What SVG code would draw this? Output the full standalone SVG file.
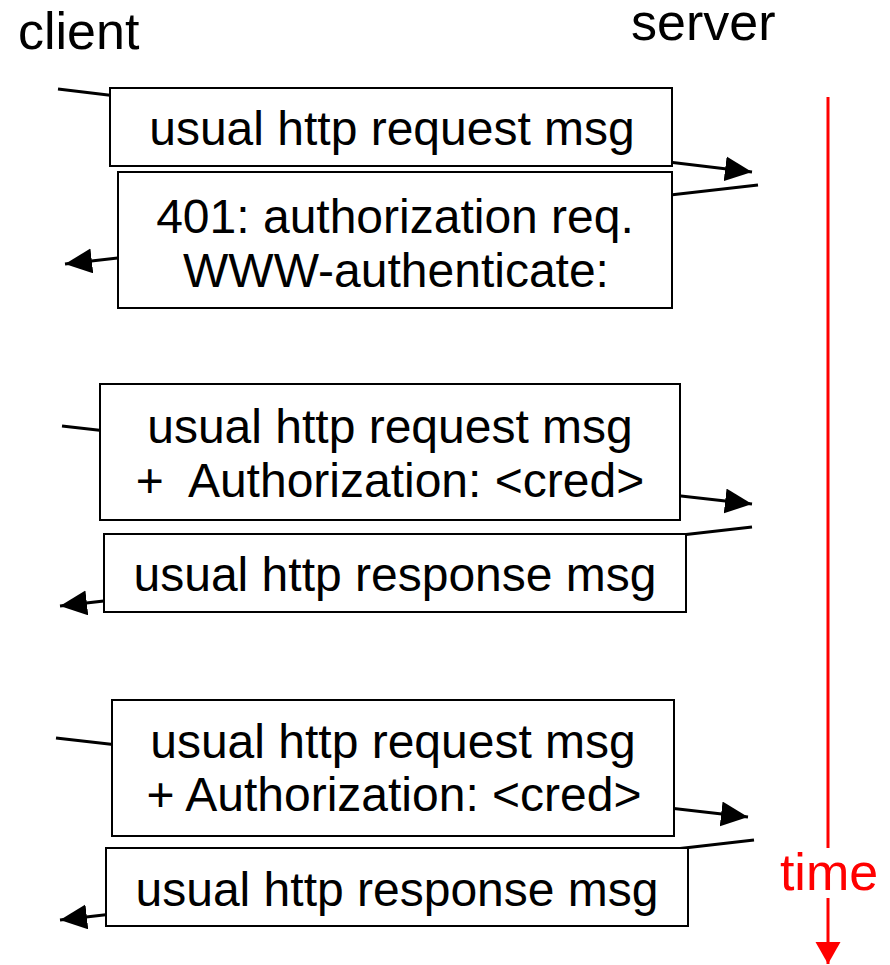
<svg xmlns="http://www.w3.org/2000/svg" width="890" height="965" viewBox="0 0 890 965">
  <style>
    .lbl { font-family: "Liberation Sans", Arial, sans-serif; font-size: 52px; fill: #000; }
    .msg { font-family: "Liberation Sans", Arial, sans-serif; font-size: 48px; fill: #000; text-anchor: middle; white-space: pre; }
    .box { fill: #fff; stroke: #000; stroke-width: 2; }
    .conn { fill: none; stroke: #000; stroke-width: 3; marker-end: url(#ah); }
    .time { fill: none; stroke: #ff0000; stroke-width: 3; }
  </style>
  <defs>
    <marker id="ah" markerUnits="userSpaceOnUse" markerWidth="28" markerHeight="26" refX="27" refY="12.5" orient="auto">
      <path d="M0,0 L27,12.5 L0,25 Z" fill="#000"/>
    </marker>
    <marker id="ahr" markerUnits="userSpaceOnUse" markerWidth="26" markerHeight="26" refX="22" refY="12.5" orient="auto">
      <path d="M0,0 L22,12.5 L0,25 Z" fill="#ff0000"/>
    </marker>
  </defs>

  <g id="labels">
    <text class="lbl" x="18" y="49">client</text>
    <text class="lbl" x="631" y="40">server</text>
  </g>

  <g id="timeline">
    <line class="time" x1="828" y1="97" x2="828" y2="848"/>
    <line class="time" x1="828" y1="898" x2="828" y2="964" marker-end="url(#ahr)"/>
    <text x="829" y="890" style="font-family:'Liberation Sans',Arial,sans-serif;font-size:52px;fill:#ff0000;text-anchor:middle">time</text>
  </g>

  <g id="connectors">
    <path class="conn" d="M58,89 L752,172"/>
    <path class="conn" d="M758,185 L65,264"/>
    <path class="conn" d="M62,426 L752,504"/>
    <path class="conn" d="M752,527 L60,606"/>
    <path class="conn" d="M56,738 L748,817"/>
    <path class="conn" d="M754,840 L60,920"/>
  </g>

  <g id="req1">
    <rect class="box" x="110" y="88" width="562" height="78"/>
    <text class="msg" x="392" y="145">usual http request msg</text>
  </g>
  <g id="resp401">
    <rect class="box" x="118" y="172" width="554" height="136"/>
    <text class="msg" x="395" y="233">401: authorization req.</text>
    <text class="msg" x="396" y="287">WWW-authenticate:</text>
  </g>
  <g id="req2">
    <rect class="box" x="100" y="384" width="580" height="136"/>
    <text class="msg" x="390" y="443">usual http request msg</text>
    <text class="msg" x="390" y="497">+  Authorization: &lt;cred&gt;</text>
  </g>
  <g id="resp2">
    <rect class="box" x="104" y="534" width="582" height="78"/>
    <text class="msg" x="395" y="591">usual http response msg</text>
  </g>
  <g id="req3">
    <rect class="box" x="112" y="700" width="562" height="136"/>
    <text class="msg" x="393" y="758">usual http request msg</text>
    <text class="msg" x="394" y="811">+ Authorization: &lt;cred&gt;</text>
  </g>
  <g id="resp3">
    <rect class="box" x="106" y="848" width="582" height="78"/>
    <text class="msg" x="397" y="906">usual http response msg</text>
  </g>
</svg>
